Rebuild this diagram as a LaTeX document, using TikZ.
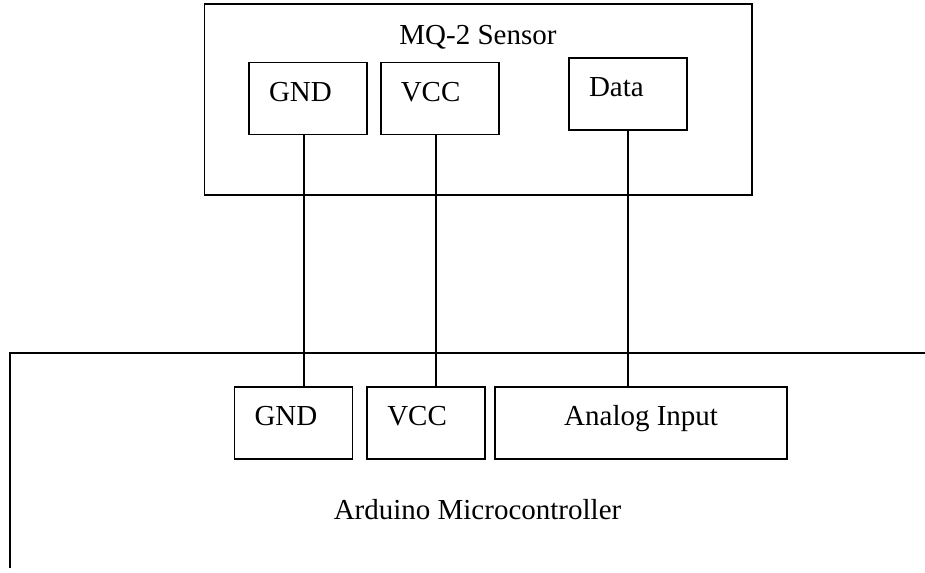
\documentclass[tikz,border=0pt]{standalone}
\usepackage{fontspec}
\setmainfont{Liberation Serif}
\usetikzlibrary{positioning}

\begin{document}
\begin{tikzpicture}[x=0.75pt, y=-0.75pt, line width=1.35pt,
    modbox/.style={draw, minimum width=410.6pt, minimum height=143.25pt, inner sep=0pt},
    lbl/.style={font=\fontsize{21.75}{26}\selectfont, inner sep=0pt},
    pinbox/.style={draw, lbl, align=left, text width=58.5pt, inner xsep=15pt, inner ysep=0pt,
                   minimum height=54pt, text height=15pt, text depth=10.5pt},
    widebox/.style={draw, lbl, align=center, minimum width=219pt, minimum height=54pt,
                   text height=15pt, text depth=10.5pt}
  ]
    \useasboundingbox (0,0) rectangle (925,573);

    % MQ-2 sensor
    \node[modbox]                    (sensor) at (478.25,99.5) {};
    \node[lbl]                       (sensortitle) at (478,37) {MQ-2 Sensor};
    \node[pinbox]                    (gnd1) at (308,98.5) {GND};
    \node[pinbox, right=9pt of gnd1] (vcc1) {VCC};
    \node[pinbox]                    (data1) at (628,94) {Data};

    % Arduino
    \coordinate (ardbl) at (10,568);
    \coordinate (ardtr) at (925,353);
    \draw (ardbl) |- (ardtr);
    \node[pinbox]                      (gnd2) at (293.5,423) {GND};
    \node[pinbox, right=9.75pt of gnd2] (vcc2) {VCC};
    \node[widebox, right=6pt of vcc2]   (analog) {Analog Input};
    \node[lbl]                          (ardtitle) at (477.5,510) {Arduino Microcontroller};

    % wires
    \draw ([xshift=-3pt]gnd1.south) -- ([xshift=-3pt]gnd1.south |- gnd2.north);
    \draw ([xshift=-3pt]vcc1.south) -- ([xshift=-3pt]vcc1.south |- vcc2.north);
    \draw (data1.south) -- (data1.south |- analog.north);
  \end{tikzpicture}
\end{document}
